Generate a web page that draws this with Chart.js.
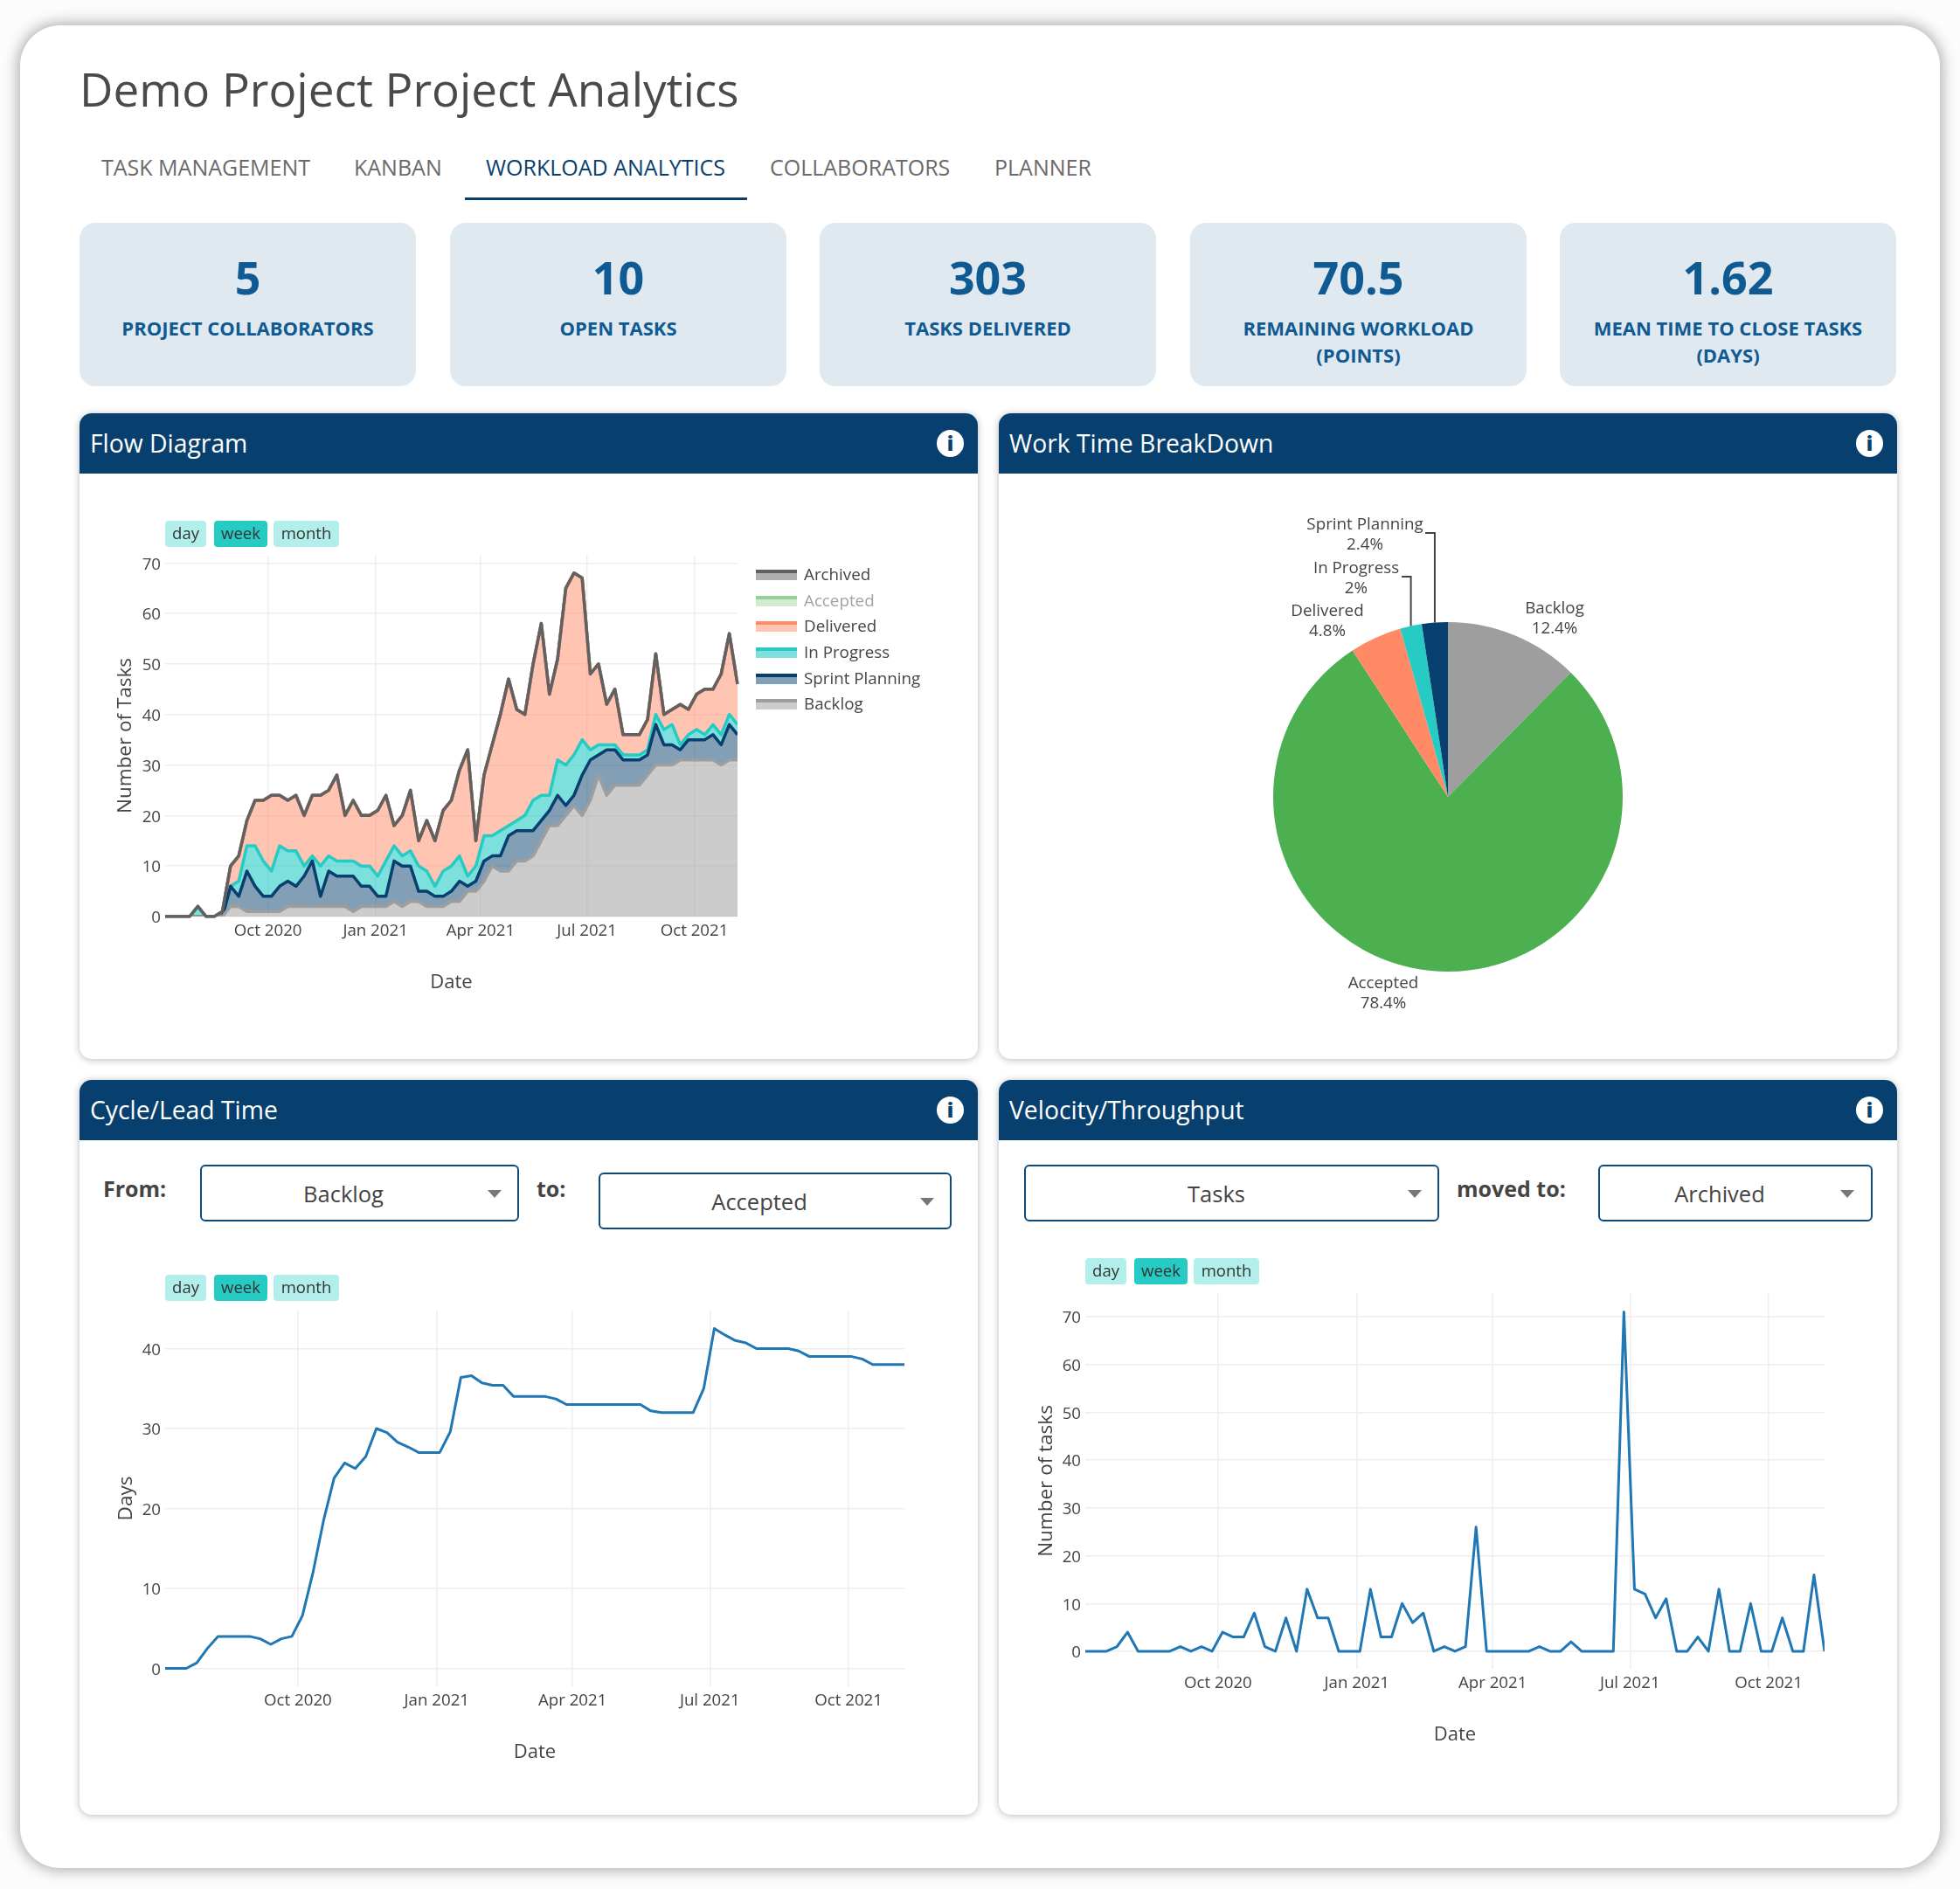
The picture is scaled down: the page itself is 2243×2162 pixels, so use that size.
<!DOCTYPE html>
<html>
<head>
<meta charset="utf-8">
<title>Demo Project Project Analytics</title>
<script src="https://cdn.jsdelivr.net/npm/chart.js@4"></script>
<style>
  html, body { margin: 0; padding: 0; background: #fcfcfc; }
  body { width: 2243px; height: 2162px; position: relative; overflow: hidden; font-family: "Open Sans", sans-serif; color: #444; }
  #sheet { position: absolute; left: 23px; top: 29px; width: 2197px; height: 2109px; background: #fff; border-radius: 46px; box-shadow: 0 0 16px 3px rgba(0,0,0,.3); }
  .abs, canvas { position: absolute; }
  h1 { position: absolute; left: 91px; top: 66px; margin: 0; font-size: 53px; line-height: 72px; font-weight: 400; color: #4a4a4a; white-space: nowrap; }
  .tab { position: absolute; top: 173px; font-size: 25px; line-height: 36px; color: #6a6a6a; white-space: nowrap; }
  .tab.on { color: #07406e; }
  #tabline { position: absolute; left: 532px; top: 226px; width: 323px; height: 3px; background: #07406e; }
  .kpi { position: absolute; top: 255px; width: 385px; height: 187px; background: #e0e9f0; border-radius: 18px; text-align: center; color: #0f5a92; }
  .kpi b { display: block; position: absolute; left: 0; right: 0; top: 27px; font-size: 52px; line-height: 70px; font-weight: 700; }
  .kpi span { display: block; position: absolute; left: 10px; right: 10px; top: 105px; font-size: 22px; line-height: 31px; font-weight: 700; }
  .panel { position: absolute; width: 1028px; background: #fff; border-radius: 14px; box-shadow: 0 1px 8px rgba(0,0,0,.28); }
  .panel .head { height: 69px; background: #07406e; border-radius: 14px 14px 0 0; color: #fff; font-size: 28.3px; line-height: 69px; padding-left: 12px; }
  .panel .info { position: absolute; right: 16px; top: 19px; width: 31px; height: 31px; border-radius: 50%; background: #fff; color: #07406e; font-size: 23px; line-height: 31px; font-weight: 800; text-align: center; }
  .btn { position: absolute; height: 30px; line-height: 28px; font-size: 18.5px; color: #333; background: #b2efeb; border-radius: 4px; text-align: center; }
  .btn.on { background: #26ccc4; }
  .sel { position: absolute; box-sizing: border-box; border: 2px solid #0d4a7c; border-radius: 6px; font-size: 25.5px; color: #444; }
  .sel span { position: absolute; top: 50%; transform: translate(-50%, -50%); white-space: nowrap; }
  .sel i { position: absolute; top: 50%; margin-top: -4px; border-left: 8px solid transparent; border-right: 8px solid transparent; border-top: 9px solid #777; }
  .lbl { position: absolute; font-size: 25px; font-weight: 700; color: #444; line-height: 34px; white-space: nowrap; }
  .leg { position: absolute; left: 865px; width: 47px; height: 12px; }
  .legt { position: absolute; left: 920px; font-size: 18.8px; line-height: 24px; color: #444; white-space: nowrap; }
</style>
</head>
<body>
<div id="sheet"></div>
<h1>Demo Project Project Analytics</h1>
<div class="tab" style="left:116px">TASK MANAGEMENT</div>
<div class="tab" style="left:405px">KANBAN</div>
<div class="tab on" style="left:556px">WORKLOAD ANALYTICS</div>
<div class="tab" style="left:881px">COLLABORATORS</div>
<div class="tab" style="left:1138px">PLANNER</div>
<div id="tabline"></div>

<div class="kpi" style="left:91px"><b>5</b><span>PROJECT COLLABORATORS</span></div>
<div class="kpi" style="left:515px"><b>10</b><span>OPEN TASKS</span></div>
<div class="kpi" style="left:938px"><b>303</b><span>TASKS DELIVERED</span></div>
<div class="kpi" style="left:1362px"><b>70.5</b><span>REMAINING WORKLOAD<br>(POINTS)</span></div>
<div class="kpi" style="left:1785px"><b>1.62</b><span>MEAN TIME TO CLOSE TASKS<br>(DAYS)</span></div>

<div class="panel" style="left:91px;top:473px;height:739px"><div class="head">Flow Diagram</div><div class="info">i</div></div>
<div class="panel" style="left:1143px;top:473px;height:739px"><div class="head">Work Time BreakDown</div><div class="info">i</div></div>
<div class="panel" style="left:91px;top:1236px;height:841px"><div class="head">Cycle/Lead Time</div><div class="info">i</div></div>
<div class="panel" style="left:1143px;top:1236px;height:841px"><div class="head">Velocity/Throughput</div><div class="info">i</div></div>

<canvas id="flow-chart" width="760" height="523" style="left:130px;top:615px;width:760px;height:523px"></canvas>
<canvas id="pie-chart" width="1028" height="670" style="left:1143px;top:542px;width:1028px;height:670px"></canvas>
<canvas id="cycle-chart" width="934" height="539" style="left:131px;top:1480px;width:934px;height:539px"></canvas>
<canvas id="velocity-chart" width="934" height="539" style="left:1184px;top:1460px;width:934px;height:539px"></canvas>

<div class="btn" style="left:189px;top:596px;width:47px">day</div>
<div class="btn on" style="left:245px;top:596px;width:61px">week</div>
<div class="btn" style="left:313px;top:596px;width:75px">month</div>
<div class="btn" style="left:189px;top:1459px;width:47px">day</div>
<div class="btn on" style="left:245px;top:1459px;width:61px">week</div>
<div class="btn" style="left:313px;top:1459px;width:75px">month</div>
<div class="btn" style="left:1242px;top:1440px;width:47px">day</div>
<div class="btn on" style="left:1298px;top:1440px;width:61px">week</div>
<div class="btn" style="left:1366px;top:1440px;width:75px">month</div>

<div id="flow-legend"></div>

<div class="lbl" style="left:118px;top:1343px">From:</div>
<div class="sel" style="left:229px;top:1333px;width:365px;height:65px"><span style="left:162px">Backlog</span><i style="left:327px"></i></div>
<div class="lbl" style="left:614px;top:1343px">to:</div>
<div class="sel" style="left:685px;top:1342px;width:404px;height:65px"><span style="left:182px">Accepted</span><i style="left:366px"></i></div>
<div class="sel" style="left:1172px;top:1333px;width:475px;height:65px"><span style="left:218px">Tasks</span><i style="left:437px"></i></div>
<div class="lbl" style="left:1667px;top:1343px">moved to:</div>
<div class="sel" style="left:1829px;top:1333px;width:314px;height:65px"><span style="left:137px">Archived</span><i style="left:275px"></i></div>

<script>
// weekly buckets on the x axis
const weekDates = [
  '2020-07-05','2020-07-12','2020-07-19','2020-07-26','2020-08-02','2020-08-09','2020-08-16','2020-08-23','2020-08-30',
  '2020-09-06','2020-09-13','2020-09-20','2020-09-27','2020-10-04','2020-10-11','2020-10-18','2020-10-25','2020-11-01',
  '2020-11-08','2020-11-15','2020-11-22','2020-11-29','2020-12-06','2020-12-13','2020-12-20','2020-12-27','2021-01-03',
  '2021-01-10','2021-01-17','2021-01-24','2021-01-31','2021-02-07','2021-02-14','2021-02-21','2021-02-28','2021-03-07',
  '2021-03-14','2021-03-21','2021-03-28','2021-04-04','2021-04-11','2021-04-18','2021-04-25','2021-05-02','2021-05-09',
  '2021-05-16','2021-05-23','2021-05-30','2021-06-06','2021-06-13','2021-06-20','2021-06-27','2021-07-04','2021-07-11',
  '2021-07-18','2021-07-25','2021-08-01','2021-08-08','2021-08-15','2021-08-22','2021-08-29','2021-09-05','2021-09-12',
  '2021-09-19','2021-09-26','2021-10-03','2021-10-10','2021-10-17','2021-10-24','2021-10-31','2021-11-07'
];
const tickDates = ['2020-10-01', '2021-01-01', '2021-04-01', '2021-07-01', '2021-10-01'];
const tickLabels = ['Oct 2020', 'Jan 2021', 'Apr 2021', 'Jul 2021', 'Oct 2021'];

// Flow diagram, tasks per state (stacked)
const backlogValues = [0,0,0,0,0,0,0,0,2,2,1,1,1,1,1,2,2,2,2,2,2,2,2,1,2,2,2,2,3,2,3,3,2,2,2,3,3,5,5,7,10,9,9,11,11,12,15,18,18,20,22,20,23,28,24,26,26,26,26,28,30,30,30,31,31,31,31,31,30,31,31];
const sprintValues = [0,0,0,0,0,0,0,0,4,2,8,5,3,3,5,5,4,6,9,2,7,6,6,7,4,4,2,2,8,8,7,2,3,2,2,2,4,1,2,4,2,3,7,6,6,5,4,3,6,2,2,8,8,4,9,7,5,5,5,4,8,4,4,2,4,4,4,5,4,7,5];
const progressValues = [0,0,0,0,2,0,0,0,0,3,5,8,7,5,8,6,7,2,1,6,3,3,3,3,4,4,4,7,3,2,3,5,4,2,5,5,5,2,3,5,4,5,2,2,3,6,5,3,7,8,8,7,2,2,1,1,1,1,1,1,2,3,4,1,1,2,1,2,2,2,2];
const deliveredValues = [0,0,0,0,0,0,0,1,4,5,5,9,12,15,10,10,11,10,12,14,13,17,9,12,10,10,13,13,4,8,12,5,10,9,12,13,17,25,5,12,18,23,29,22,20,27,34,20,20,35,36,32,15,16,8,11,4,4,4,6,12,3,3,8,5,7,9,7,12,16,8];
const acceptedValues = [];
const archivedValues = [0,0,0,0,0,0,0,0,0,0,0,0,0,0,0,0,0,0,0,0,0,0,0,0,0,0,0,0,0,0,0,0,0,0,0,0,0,0,0,0,0,0,0,0,0,0,0,0,0,0,0,0,0,0,0,0,0,0,0,0,0,0,0,0,0,0,0,0,0,0,0];

// Work time breakdown
const pieLabels = ['Backlog', 'Accepted', 'Delivered', 'In Progress', 'Sprint Planning'];
const pieValues = [12.4, 78.4, 4.8, 2, 2.4];

// Cycle / lead time
const cycleValues = [0,0,0,0.7,2.5,4,4,4,4,3.7,3,3.7,4,6.6,12,18.5,23.8,25.7,25,26.5,30,29.5,28.3,27.7,27,27,27,29.6,36.4,36.6,35.7,35.4,35.4,34,34,34,34,33.7,33,33,33,33,33,33,33,33,32.2,32,32,32,32,35,42.5,41.7,41,40.7,40,40,40,40,39.7,39,39,39,39,39,38.7,38,38,38,38];

// Velocity / throughput
const velocityValues = [0,0,0,1,4,0,0,0,0,1,0,1,0,4,3,3,8,1,0,7,0,13,7,7,0,0,0,13,3,3,10,6,8,0,1,0,1,26,0,0,0,0,0,1,0,0,2,0,0,0,0,71,13,12,7,11,0,0,3,0,13,0,0,10,0,0,7,0,0,16,0];

const flowTicks = [0, 10, 20, 30, 40, 50, 60, 70];
const cycleTicks = [0, 10, 20, 30, 40];
const velocityTicks = [0, 10, 20, 30, 40, 50, 60, 70];

Chart.defaults.font.family = '"Open Sans", sans-serif';
Chart.defaults.font.size = 18.7;
Chart.defaults.color = '#444';

const GRID = '#eeeeee';
const xMin = Date.parse(weekDates[0]);
const xMax = Date.parse(weekDates[weekDates.length - 1]);
const toPoints = values => values.map((v, i) => ({ x: Date.parse(weekDates[i]), y: v }));

function axes(yTitle, yTicks, yMin, yMax, yWidth, stacked) {
  return {
    x: {
      type: 'linear', min: xMin, max: xMax,
      afterBuildTicks: s => { s.ticks = tickDates.map(d => ({ value: Date.parse(d) })); },
      afterFit: s => { s.height = 89; },
      grid: { color: GRID, lineWidth: 1.5, drawTicks: false },
      border: { display: false },
      ticks: {
        autoSkip: false, maxRotation: 0, padding: 5, color: '#444',
        callback: v => tickLabels[tickDates.findIndex(d => Date.parse(d) === v)]
      },
      title: { display: true, text: 'Date', font: { size: 22 }, color: '#444', padding: 0 }
    },
    y: {
      min: yMin, max: yMax, stacked: stacked,
      afterBuildTicks: s => { s.ticks = yTicks.map(v => ({ value: v })); },
      afterFit: s => { s.width = yWidth; },
      grid: { color: GRID, lineWidth: 1.5, drawTicks: false },
      border: { display: false },
      ticks: { padding: 5, labelOffset: 2, color: '#444' },
      title: { display: true, text: yTitle, font: { size: 22.5 }, color: '#444', padding: 0 }
    }
  };
}

const baseOptions = {
  responsive: false, animation: false, devicePixelRatio: 1,
  elements: { point: { radius: 0 }, line: { tension: 0, borderJoinStyle: 'round' } },
  plugins: { legend: { display: false }, tooltip: { enabled: false } }
};

function stackSet(label, values, line, fill, target) {
  return { label: label, data: toPoints(values), borderColor: line, backgroundColor: fill, borderWidth: 3.5, fill: target };
}

// keep the top (Archived) outline above the lower series
const archivedOnTop = {
  id: 'archivedOnTop',
  afterDatasetsDraw(chart) {
    chart.getDatasetMeta(5).dataset.draw(chart.ctx);
  }
};

new Chart(document.getElementById('flow-chart'), {
  type: 'line',
  plugins: [archivedOnTop],
  data: {
    datasets: [
      stackSet('Backlog', backlogValues, '#9e9e9e', 'rgba(158,158,158,0.52)', 'origin'),
      stackSet('Sprint Planning', sprintValues, '#073f6e', 'rgba(7,63,110,0.5)', '-1'),
      stackSet('In Progress', progressValues, '#26ccc4', 'rgba(38,204,196,0.6)', '-1'),
      stackSet('Delivered', deliveredValues, '#ff8a65', 'rgba(255,138,101,0.5)', '-1'),
      Object.assign(stackSet('Accepted', acceptedValues, '#4caf50', 'rgba(76,175,80,0.4)', '-1'), { hidden: true }),
      stackSet('Archived', archivedValues, '#616161', 'rgba(97,97,97,0.5)', '-1')
    ]
  },
  options: Object.assign({}, baseOptions, {
    layout: { padding: { top: 20, right: 46 } },
    scales: axes('Number of Tasks', flowTicks, 0, 71.6, 59, true)
  })
});

// html legend, Plotly style swatches
const legendRows = [
  ['Archived', '#616161', 'rgba(97,97,97,0.5)', 658, 1],
  ['Accepted', 'rgba(76,175,80,0.45)', 'rgba(76,175,80,0.25)', 688, 0.5],
  ['Delivered', '#ff8a65', 'rgba(255,138,101,0.5)', 717, 1],
  ['In Progress', '#26ccc4', 'rgba(38,204,196,0.6)', 747, 1],
  ['Sprint Planning', '#073f6e', 'rgba(7,63,110,0.5)', 777, 1],
  ['Backlog', '#9e9e9e', 'rgba(158,158,158,0.52)', 806, 1]
];
document.getElementById('flow-legend').innerHTML = legendRows.map(r =>
  `<div class="leg" style="top:${r[3] - 6}px;background:${r[2]};border-top:4px solid ${r[1]};box-sizing:border-box"></div>` +
  `<div class="legt" style="top:${r[3] - 13}px;opacity:${r[4]}">${r[0]}</div>`).join('');

// pie labels sit outside the slices, two of them with leader lines
const pieText = [
  { cx: 636, y: 155 }, { cx: 440, y: 584 }, { cx: 376, y: 158 },
  { cx: 409, y: 109, leaderFrom: 461, leaderY: 118 },
  { cx: 419, y: 59, leaderFrom: 488, leaderY: 68 }
];
const pieLabelPlugin = {
  id: 'pieLabelPlugin',
  afterDatasetsDraw(chart) {
    const ctx = chart.ctx;
    const arcs = chart.getDatasetMeta(0).data;
    ctx.save();
    ctx.font = '18.8px "Open Sans"';
    ctx.fillStyle = '#444';
    ctx.textAlign = 'center';
    ctx.textBaseline = 'middle';
    pieText.forEach((p, i) => {
      ctx.fillText(pieLabels[i], p.cx, p.y);
      ctx.fillText(pieValues[i] + '%', p.cx, p.y + 23);
      if (p.leaderFrom) {
        const a = arcs[i];
        const mid = (a.startAngle + a.endAngle) / 2;
        ctx.strokeStyle = '#444';
        ctx.lineWidth = 2;
        ctx.beginPath();
        ctx.moveTo(p.leaderFrom, p.leaderY);
        ctx.lineTo(a.x + Math.cos(mid) * a.outerRadius, p.leaderY);
        ctx.lineTo(a.x + Math.cos(mid) * a.outerRadius, a.y + Math.sin(mid) * a.outerRadius);
        ctx.stroke();
      }
    });
    ctx.restore();
  }
};

new Chart(document.getElementById('pie-chart'), {
  type: 'pie',
  plugins: [pieLabelPlugin],
  data: {
    labels: pieLabels,
    datasets: [{
      data: pieValues,
      backgroundColor: ['#9e9e9e', '#4caf50', '#ff8a65', '#26ccc4', '#073f6e'],
      borderWidth: 0
    }]
  },
  options: Object.assign({}, baseOptions, {
    layout: { padding: { top: 170, bottom: 100, left: 314, right: 314 } }
  })
});

function lineChart(id, values, yTitle, yTicks, yMin, yMax) {
  new Chart(document.getElementById(id), {
    type: 'line',
    data: { datasets: [{ data: toPoints(values), borderColor: '#1f77b4', borderWidth: 3, fill: false }] },
    options: Object.assign({}, baseOptions, {
      layout: { padding: { top: 20, right: 30 } },
      scales: axes(yTitle, yTicks, yMin, yMax, 58, false)
    })
  });
}
lineChart('cycle-chart', cycleValues, 'Days', cycleTicks, -2.24, 44.75);
lineChart('velocity-chart', velocityValues, 'Number of tasks', velocityTicks, -3.66, 74.95);
</script>
</body>
</html>
